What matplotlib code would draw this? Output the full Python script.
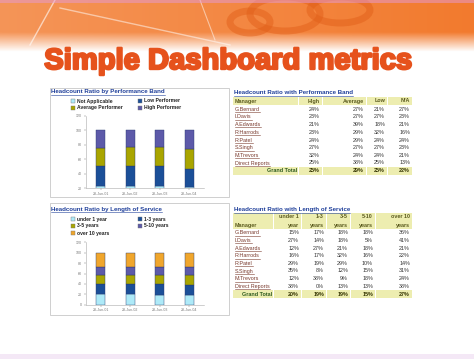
import matplotlib.pyplot as plt
import matplotlib.patheffects as pe
from matplotlib.patches import Rectangle, Ellipse
import numpy as np

W, H = 474, 359

# ---- data ----
dates = ['28-Jun-01', '28-Jun-02', '28-Jun-03', '28-Jun-04']

perf_labels = ['Not Applicable', 'Low Performer', 'Average Performer', 'High Performer']
perf_na = [23, 23, 23, 22]
perf_low = [27, 27, 27, 24]
perf_avg = [26, 27, 27, 28]
perf_high = [24, 23, 23, 26]

los_labels = ['under 1 year', '1-3 years', '3-5 years', '5-10 years', 'over 10 years']
los_u1 = [20, 20, 19, 19]
los_1_3 = [20, 20, 20, 19]
los_3_5 = [17, 17, 18, 19]
los_5_10 = [16, 16, 16, 16]
los_o10 = [27, 27, 27, 27]

managers = ['G.Bernard', 'I.Davis', 'A.Edwards', 'R.Harrods', 'R.Patel',
            'S.Singh', 'M.Trevors', 'Direct Reports']

band_cols = ['High', 'Average', 'Low', 'N/A']
band_high = [24, 23, 21, 23, 24, 27, 32, 25]
band_avg = [27, 27, 39, 29, 29, 27, 24, 38]
band_low = [21, 27, 18, 32, 24, 27, 24, 25]
band_na = [27, 23, 21, 16, 24, 23, 21, 13]
band_total = [25, 29, 25, 22]

svc_cols = [('under 1', 'year'), ('1-3', 'years'), ('3-5', 'years'),
            ('5-10', 'years'), ('over 10', 'years')]
svc_u1 = [15, 27, 12, 16, 29, 35, 12, 38]
svc_1_3 = [17, 14, 27, 17, 19, 8, 38, 0]
svc_3_5 = [18, 18, 21, 32, 29, 12, 9, 13]
svc_5_10 = [18, 5, 18, 16, 10, 15, 18, 13]
svc_o10 = [36, 41, 21, 22, 14, 31, 24, 38]
svc_total = [20, 19, 19, 15, 27]

# ---- style ----
plt.rcParams['font.family'] = ['Liberation Sans', 'DejaVu Sans']
c_na, c_low, c_avg, c_high, c_o10 = '#aeeaf8', '#1b4f98', '#a9a500', '#5d5aa9', '#f0a62c'
hdr_bg = '#ededb0'
link_blue = '#1f3f9a'
maroon = '#7a3b2e'
txt = '#333333'


def box(x0, y0, x1, y1):
    return [x0 / W, 1 - y1 / H, (x1 - x0) / W, (y1 - y0) / H]


fig = plt.figure(figsize=(W / 100, H / 100), dpi=100)
fig.patch.set_facecolor('white')

bg = fig.add_axes([0, 0, 1, 1])
bg.set_xlim(0, W)
bg.set_ylim(H, 0)
bg.axis('off')

# banner gradient
yy = np.linspace(0, 1, 60)[:, None]
fade = np.clip(1 - (yy - 0.62) / 0.38, 0, 1)
xx = np.linspace(0, 1, 200)[None, :]
orange = np.array([0.95, 0.48, 0.18])
band = np.ones((60, 200, 3))
for i in range(3):
    band[:, :, i] = 1 - (1 - orange[i]) * fade * (0.8 + 0.2 * xx)
bg.imshow(band, extent=(0, W, 52, 0), aspect='auto', zorder=0)
for cx, cy, w_, h_ in [(285, 14, 70, 34), (340, 10, 60, 26), (250, 22, 40, 22)]:
    bg.add_patch(Ellipse((cx, cy), w_, h_, fc='none', ec='#e2601a', lw=5, alpha=0.5, zorder=1))
bg.plot([30, 55], [45, 0], color='white', lw=1, alpha=0.6, zorder=1)
bg.plot([60, 230], [8, 45], color='white', lw=1, alpha=0.5, zorder=1)
bg.plot([200, 215], [0, 40], color='white', lw=0.8, alpha=0.5, zorder=1)
bg.add_patch(Rectangle((0, 0), W, 3, fc='#e59ad8', ec='none', alpha=0.5, zorder=1))
bg.add_patch(Rectangle((0, 354), W, 5, fc='#f4e8f6', ec='none', zorder=1))

fig.text(228 / W, 1 - 61 / H, 'Simple Dashboard metrics', ha='center', va='center',
         fontsize=21, fontweight='bold', color='#e6521c',
         path_effects=[pe.withStroke(linewidth=1.7, foreground='#e6521c')])

# panel frames for charts
for y0, y1 in [(88, 197), (203, 315)]:
    bg.add_patch(Rectangle((50, y0), 179, y1 - y0, fc='white', ec='#c8c8c8', lw=0.6, zorder=2))

underlines = []


def label(x, y, s, color=txt, ha='left', size=3.9, weight='normal', uline=False):
    t = bg.text(x, y, s, ha=ha, va='center', fontsize=size, color=color,
                fontweight=weight, zorder=5)
    if uline:
        underlines.append((t, color))
    return t


# chart titles
label(51, 92, 'Headcount Ratio by Performance Band', link_blue, size=4.4, weight='bold', uline=True)
label(51, 209, 'Headcount Ratio by Length of Service', link_blue, size=4.4, weight='bold', uline=True)
label(234, 93, 'Headcount Ratio with Performance Band', link_blue, size=4.4, weight='bold', uline=True)
label(234, 210, 'Headcount Ratio with Length of Service', link_blue, size=4.4, weight='bold', uline=True)

# legends
def legend(items, colors, y0):
    for i, (lab, col) in enumerate(zip(items, colors)):
        x = 71 if i % 2 == 0 else 138
        y = y0 + 7 * (i // 2)
        bg.add_patch(Rectangle((x, y - 2), 4, 4, fc=col, ec='#777777', lw=0.3, zorder=5))
        label(x + 6, y, lab, '#222222', size=3.6, weight='bold')


legend(perf_labels, [c_na, c_low, c_avg, c_high], 101)
legend(los_labels, [c_na, c_low, c_avg, c_high, c_o10], 219)

# ---- stacked bar charts ----
x = np.arange(len(dates))


def stacked(ax, series, colors, ylo, yhi):
    bottom = np.zeros(len(dates))
    for vals, col in zip(series, colors):
        ax.bar(x, vals, 0.3, bottom=bottom, color=col, edgecolor='#2a3a70', lw=0.3)
        bottom += np.array(vals)
    ax.set_xlim(-0.5, 3.5)
    ax.set_ylim(ylo, yhi)
    ax.set_yticks(np.arange(ylo, yhi + 1, 20))
    ax.set_xticks(x)
    ax.set_xticklabels(dates)
    ax.tick_params(labelsize=2.6, colors='#777777', length=1.2, width=0.3, pad=1.5)
    for s in ['top', 'right']:
        ax.spines[s].set_visible(False)
    for s in ['left', 'bottom']:
        ax.spines[s].set_color('#aaaaaa')
        ax.spines[s].set_linewidth(0.4)
    ax.set_facecolor('none')


ax1 = fig.add_axes(box(86, 115.7, 204, 188))
stacked(ax1, [perf_na, perf_low, perf_avg, perf_high], [c_na, c_low, c_avg, c_high], 20, 120)
ax2 = fig.add_axes(box(86, 242.3, 204, 304.7))
stacked(ax2, [los_u1, los_1_3, los_3_5, los_5_10, los_o10],
        [c_na, c_low, c_avg, c_high, c_o10], 0, 120)

# ---- tables ----
def table(edges, header_lines, hdr_top, hdr_bot, row_y, columns, totals, total_y):
    for i in range(len(edges) - 1):
        bg.add_patch(Rectangle((edges[i], hdr_top), edges[i + 1] - edges[i] - 1.2,
                               hdr_bot - hdr_top, fc=hdr_bg, ec='none', zorder=3))
        bg.add_patch(Rectangle((edges[i], total_y - 4), edges[i + 1] - edges[i] - 1.2,
                               8, fc=hdr_bg, ec='none', zorder=3))
    for hy, names in header_lines:
        for i, n in enumerate(names):
            label(edges[i + 2] - 3, hy, n, '#5a5a1e', ha='right', weight='bold')
    for r, m in enumerate(managers):
        label(edges[0] + 2, row_y[r], m, maroon, uline=True)
        for c, col in enumerate(columns):
            label(edges[c + 2] - 3, row_y[r], '%d%%' % col[r], txt, ha='right')
    label(edges[1] - 2, total_y, 'Grand Total', '#2d5a1e', ha='right', weight='bold')
    for c, v in enumerate(totals):
        label(edges[c + 2] - 3, total_y, '%d%%' % v, '#333300', ha='right', weight='bold')


rows1 = [109.3, 117, 124.7, 132.3, 140, 147.7, 155.3, 163]
edges1 = [233, 299, 323, 367, 388, 413]
label(235, 101, 'Manager', '#5a5a1e', weight='bold')
table(edges1, [(101, band_cols)], 97, 105, rows1,
      [band_high, band_avg, band_low, band_na], band_total, 170.7)

rows2 = [232.7, 240.3, 248, 255.7, 263.3, 271, 278.7, 286.3]
edges2 = [233, 274, 302, 327, 351, 376, 413]
label(235, 225, 'Manager', '#5a5a1e', weight='bold')
table(edges2, [(217, [a for a, b in svc_cols]), (225, [b for a, b in svc_cols])],
      213, 229, rows2, [svc_u1, svc_1_3, svc_3_5, svc_5_10, svc_o10], svc_total, 294)

# underline links
fig.canvas.draw()
r = fig.canvas.get_renderer()
for t, col in underlines:
    bb = t.get_window_extent(r)
    yl = H - bb.y0 + 0.3
    bg.plot([bb.x0, bb.x1], [yl, yl], color=col, lw=0.4, zorder=5)

fig.savefig('out.png', dpi=100)
